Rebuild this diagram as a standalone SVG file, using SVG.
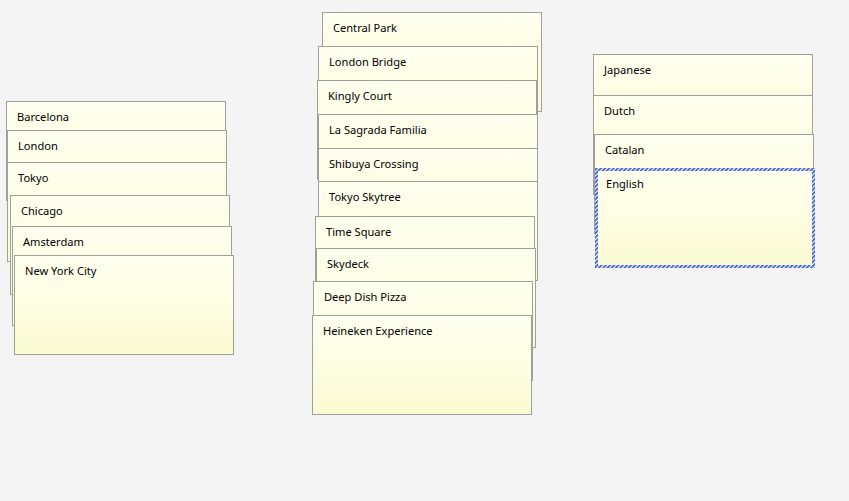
<svg xmlns="http://www.w3.org/2000/svg" width="849" height="501" viewBox="0 0 849 501">
<defs>
<linearGradient id="g" x1="0" y1="0" x2="0" y2="1">
<stop offset="0" stop-color="#fffff0"/>
<stop offset="1" stop-color="#fbfbd3"/>
</linearGradient>
<pattern id="hatch" width="3" height="3" patternUnits="userSpaceOnUse" patternTransform="rotate(45)">
<rect width="3" height="3" fill="#ffffff"/>
<rect width="1.8" height="3" fill="#3a5ccc"/>
</pattern>
</defs>
<style>
.card{fill:url(#g);stroke:#a0a09a;stroke-width:1}
.t{font-family:"Noto Sans","Open Sans",sans-serif;font-size:11.1px;fill:#000}
.sel{fill:none;stroke:url(#hatch);stroke-width:3}
</style>
<rect width="849" height="501" fill="#f4f4f4"/>
<g id="left">
<g id="barcelona"><rect class="card" x="6.5" y="101.5" width="219" height="99"/><text class="t" x="17" y="121">Barcelona</text></g>
<g id="london"><rect class="card" x="7.5" y="130.5" width="219" height="99"/><text class="t" x="18" y="150">London</text></g>
<g id="tokyo"><rect class="card" x="7.5" y="162.5" width="219" height="99"/><text class="t" x="18" y="182">Tokyo</text></g>
<g id="chicago"><rect class="card" x="10.5" y="195.5" width="219" height="99"/><text class="t" x="21" y="215">Chicago</text></g>
<g id="amsterdam"><rect class="card" x="12.5" y="226.5" width="219" height="99"/><text class="t" x="23" y="246">Amsterdam</text></g>
<g id="newyork"><rect class="card" x="14.5" y="255.5" width="219" height="99"/><text class="t" x="25" y="275">New York City</text></g>
</g>
<g id="middle">
<g id="centralpark"><rect class="card" x="322.5" y="12.5" width="219" height="99"/><text class="t" x="333" y="32">Central Park</text></g>
<g id="londonbridge"><rect class="card" x="318.5" y="46.5" width="219" height="99"/><text class="t" x="329" y="66">London Bridge</text></g>
<g id="kinglycourt"><rect class="card" x="317.5" y="80.5" width="219" height="99"/><text class="t" x="328" y="100">Kingly Court</text></g>
<g id="sagrada"><rect class="card" x="318.5" y="114.5" width="219" height="99"/><text class="t" x="329" y="134">La Sagrada Familia</text></g>
<g id="shibuya"><rect class="card" x="318.5" y="148.5" width="219" height="99"/><text class="t" x="329" y="168">Shibuya Crossing</text></g>
<g id="skytree"><rect class="card" x="318.5" y="181.5" width="219" height="99"/><text class="t" x="329" y="201">Tokyo Skytree</text></g>
<g id="timesquare"><rect class="card" x="315.5" y="216.5" width="219" height="99"/><text class="t" x="326" y="236">Time Square</text></g>
<g id="skydeck"><rect class="card" x="316.5" y="248.5" width="219" height="99"/><text class="t" x="327" y="268">Skydeck</text></g>
<g id="deepdish"><rect class="card" x="313.5" y="281.5" width="219" height="99"/><text class="t" x="324" y="301">Deep Dish Pizza</text></g>
<g id="heineken"><rect class="card" x="312.5" y="315.5" width="219" height="99"/><text class="t" x="323" y="335">Heineken Experience</text></g>
</g>
<g id="right">
<g id="japanese"><rect class="card" x="593.5" y="54.5" width="219" height="99"/><text class="t" x="604" y="74">Japanese</text></g>
<g id="dutch"><rect class="card" x="593.5" y="95.5" width="219" height="99"/><text class="t" x="604" y="115">Dutch</text></g>
<g id="catalan"><rect class="card" x="594.5" y="134.5" width="219" height="99"/><text class="t" x="605" y="154">Catalan</text></g>
<g id="english"><rect x="595" y="168" width="220" height="100" fill="url(#g)"/><rect class="sel" x="596.5" y="169.5" width="217" height="97"/><text class="t" x="606" y="188">English</text></g>
</g>
<g id="connectors"></g>
</svg>
